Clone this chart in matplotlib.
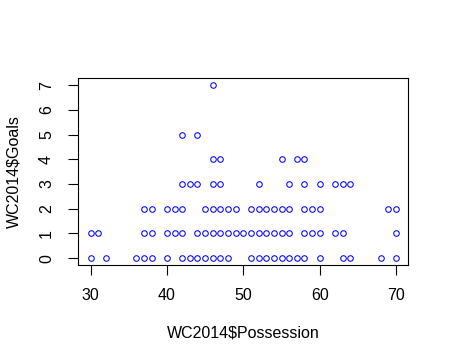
import matplotlib
matplotlib.use("Agg")
import matplotlib.pyplot as plt

plt.rcParams['font.family'] = ['Liberation Sans', 'DejaVu Sans']

# Possession values grouped by number of goals
goals0 = [30, 32, 36, 37, 38, 40, 42, 43, 44, 45, 46, 47, 48, 51, 52, 53, 54, 55, 56, 57, 58, 60, 63, 64, 68, 70]
goals1 = [30, 31, 37, 38, 40, 41, 42, 44, 45, 46, 47, 48, 49, 50, 51, 52, 53, 54, 55, 56, 58, 59, 60, 62, 63, 70]
goals2 = [37, 38, 40, 41, 42, 45, 46, 47, 48, 49, 51, 52, 53, 54, 55, 56, 58, 59, 60, 69, 70]
goals3 = [42, 43, 44, 46, 47, 52, 56, 58, 60, 62, 63, 64]
goals4 = [46, 47, 55, 57, 58]
goals5 = [42, 44]
goals7 = [46]

groups = {0: goals0, 1: goals1, 2: goals2, 3: goals3, 4: goals4, 5: goals5, 7: goals7}
possession = []
goals = []
for g, vals in groups.items():
    possession += vals
    goals += [g] * len(vals)

xticks = [30, 40, 50, 60, 70]
yticks = [0, 1, 2, 3, 4, 5, 6, 7]

fig = plt.figure(figsize=(4.49, 3.63), dpi=100)
ax = fig.add_axes([0.1744, 0.27, 0.735, 0.5143])
ax.plot(possession, goals, linestyle='none', marker='o', markersize=4.0,
        markerfacecolor='none', markeredgecolor='blue', markeredgewidth=0.75)
ax.set_xlim(28.4, 71.6)
ax.set_ylim(-0.28, 7.28)
ax.set_xticks(xticks)
ax.set_yticks(yticks)
ax.set_yticklabels([str(v) for v in yticks], rotation=90, va='center')
ax.tick_params(axis='both', length=7, width=0.8, labelsize=11.5)
ax.tick_params(axis='x', pad=9.5)
ax.tick_params(axis='y', pad=10.5)
for s in ax.spines.values():
    s.set_linewidth(0.8)
ax.set_xlabel('WC2014$Possession', fontsize=11.5, va='center')
ax.set_ylabel('WC2014$Goals', fontsize=11.5, va='center')
ax.xaxis.set_label_coords(0.5, -0.364)
ax.yaxis.set_label_coords(-0.196, 0.5)
fig.savefig('out.png', dpi=100)
